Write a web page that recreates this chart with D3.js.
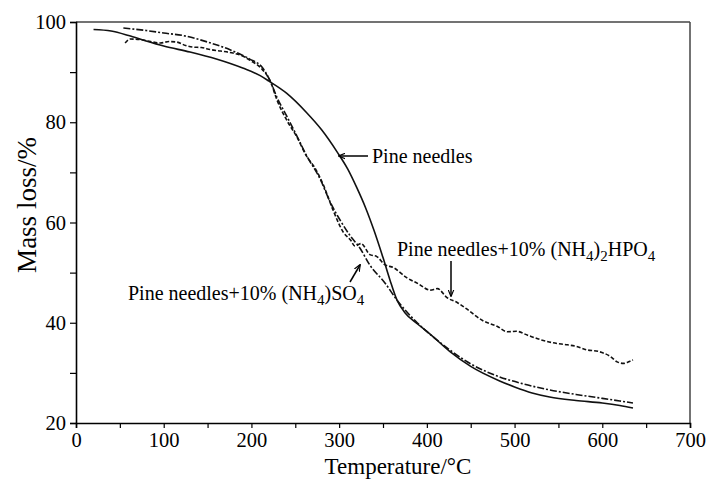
<!DOCTYPE html>
<html><head><meta charset="utf-8">
<script src="https://cdn.jsdelivr.net/npm/d3@7"></script>
<style>body{margin:0;background:#fff}text{font-family:"Liberation Serif","Times New Roman",serif}</style>
</head><body><svg id="c" width="707" height="479"></svg>
<script>
const xTicks = [0,100,200,300,400,500,600,700];
const yTicks = [20,40,60,80,100];
const pineT = [20,40,60,80,100,130,160,190,210,220,240,263,280,298,310,320,330,340,350,358,366,375,389,400,426,450,483,500,520,540,570,600,620,635];
const pineM = [98.5,98.2,97.3,96.2,95.2,94,92.6,90.8,89.3,88.2,85.8,81.9,78.5,74,70.6,67,63,58.3,53,48.5,44.5,42,39.8,38.3,34.3,31.3,28.4,27.2,26,25.2,24.5,24,23.5,23];
const so4T = [54,80,100,122,150,175,198,212,222,229,240,252,263,278,290,301,312,324,335,352,366,389,405,426,450,483,510,540,570,597,620,635];
const so4M = [98.8,98.3,97.8,97.3,96,94.5,92.6,91,88,85,81.3,77.2,73.3,68.8,64,60.5,57.5,54.8,51.5,48,44.5,40,37.5,34.6,31.8,29.2,27.8,26.6,25.7,25,24.4,24];
const hpoT = [56,62,73,85,96,106,115,125,133,143,153,165,179,190,198,212,222,229,240,252,263,272,282,293,305,313,318,325,335,343,352,362,377,390,404,412,423,435,445,464,480,492,502,515,530,544,560,570,582,595,609,617,624,630,635];
const hpoM = [95.8,96.6,96.5,96.1,95.8,96.1,96,95.3,95,94.9,94.5,94.2,93.8,93.2,92.4,90.6,88,84.5,80.5,77,73.2,71,67.5,62.5,58,56.5,55.3,55.8,53.6,53.2,51.6,51,49,47.8,46.5,46.8,45,44,42.8,40.4,39.3,38.2,38.3,37.5,36.6,36,35.6,35.3,34.6,34.3,33.3,32.2,31.9,32.2,32.6];

const svg = d3.select("#c");
const L=76,R=690,T=22,B=423;
const x = d3.scaleLinear().domain([0,700]).range([L,R]);
const y = d3.scaleLinear().domain([20,100]).range([B,T]);

svg.append("line").attr("x1",L).attr("x2",R).attr("y1",T).attr("y2",T).attr("stroke","#444").attr("stroke-width",1.5);
svg.append("line").attr("x1",R).attr("x2",R).attr("y1",T).attr("y2",B).attr("stroke","#444").attr("stroke-width",1.5);

const xAxis = d3.axisBottom(x).tickValues(d3.range(0,701,50)).tickSize(5).tickFormat(d=>xTicks.includes(d)?d:"");
const gx = svg.append("g").attr("transform",`translate(0,${B})`).call(xAxis);
const yAxis = d3.axisLeft(y).tickValues(d3.range(20,101,10)).tickSize(6).tickFormat(d=>yTicks.includes(d)?d:"");
const gy = svg.append("g").attr("transform",`translate(${L},0)`).call(yAxis);
[gx,gy].forEach(g=>{
  g.select(".domain").attr("stroke","#000").attr("stroke-width",1.6);
  g.selectAll(".tick line").attr("stroke","#000").attr("stroke-width",1.2);
  g.selectAll("text").attr("fill","#000").style("font-family","Liberation Serif").style("font-size","20.5px");
});
gx.selectAll("text").attr("dy","0.8em");
gy.selectAll("text").attr("dx","-1px");

svg.append("text").attr("x",398).attr("y",474).attr("text-anchor","middle").style("font-size","23px").text("Temperature/°C");
svg.append("text").attr("transform",`translate(36,205) rotate(-90)`).attr("text-anchor","middle").style("font-size","27px").text("Mass loss/%");

const line = d3.line().x(d=>x(d[0])).y(d=>y(d[1])).curve(d3.curveMonotoneX);
function draw(ts,ms,dash){
  svg.append("path").datum(d3.zip(ts,ms)).attr("d",line).attr("fill","none").attr("stroke","#111").attr("stroke-width",1.6).attr("stroke-dasharray",dash);
}
draw(pineT,pineM,null);
draw(so4T,so4M,"7,2,2,2");
draw(hpoT,hpoM,"4,2");

svg.append("defs").append("marker").attr("id","ah").attr("viewBox","0 0 10 10").attr("refX",9).attr("refY",5)
  .attr("markerWidth",7).attr("markerHeight",7).attr("orient","auto-start-reverse").attr("markerUnits","userSpaceOnUse")
  .append("path").attr("d","M0,1 L10,5 L0,9").attr("fill","none").attr("stroke","#000").attr("stroke-width",1.6);
function arrow(x1,y1,x2,y2){svg.append("line").attr("x1",x1).attr("y1",y1).attr("x2",x2).attr("y2",y2).attr("stroke","#000").attr("stroke-width",1.5).attr("marker-end","url(#ah)");}
arrow(368,156,339,156);
svg.append("text").attr("x",372).attr("y",163).style("font-size","20px").text("Pine needles");
arrow(451,261,451,296);
const t1 = svg.append("text").attr("x",397).attr("y",256).style("font-size","20px");
t1.append("tspan").text("Pine needles+10% (NH");
t1.append("tspan").attr("dy",5).style("font-size","15px").text("4");
t1.append("tspan").attr("dy",-5).text(")");
t1.append("tspan").attr("dy",5).style("font-size","15px").text("2");
t1.append("tspan").attr("dy",-5).text("HPO");
t1.append("tspan").attr("dy",5).style("font-size","15px").text("4");
arrow(350,282,360,265);
const t2 = svg.append("text").attr("x",128).attr("y",300).style("font-size","20px");
t2.append("tspan").text("Pine needles+10% (NH");
t2.append("tspan").attr("dy",5).style("font-size","15px").text("4");
t2.append("tspan").attr("dy",-5).text(")SO");
t2.append("tspan").attr("dy",5).style("font-size","15px").text("4");
</script></body></html>
